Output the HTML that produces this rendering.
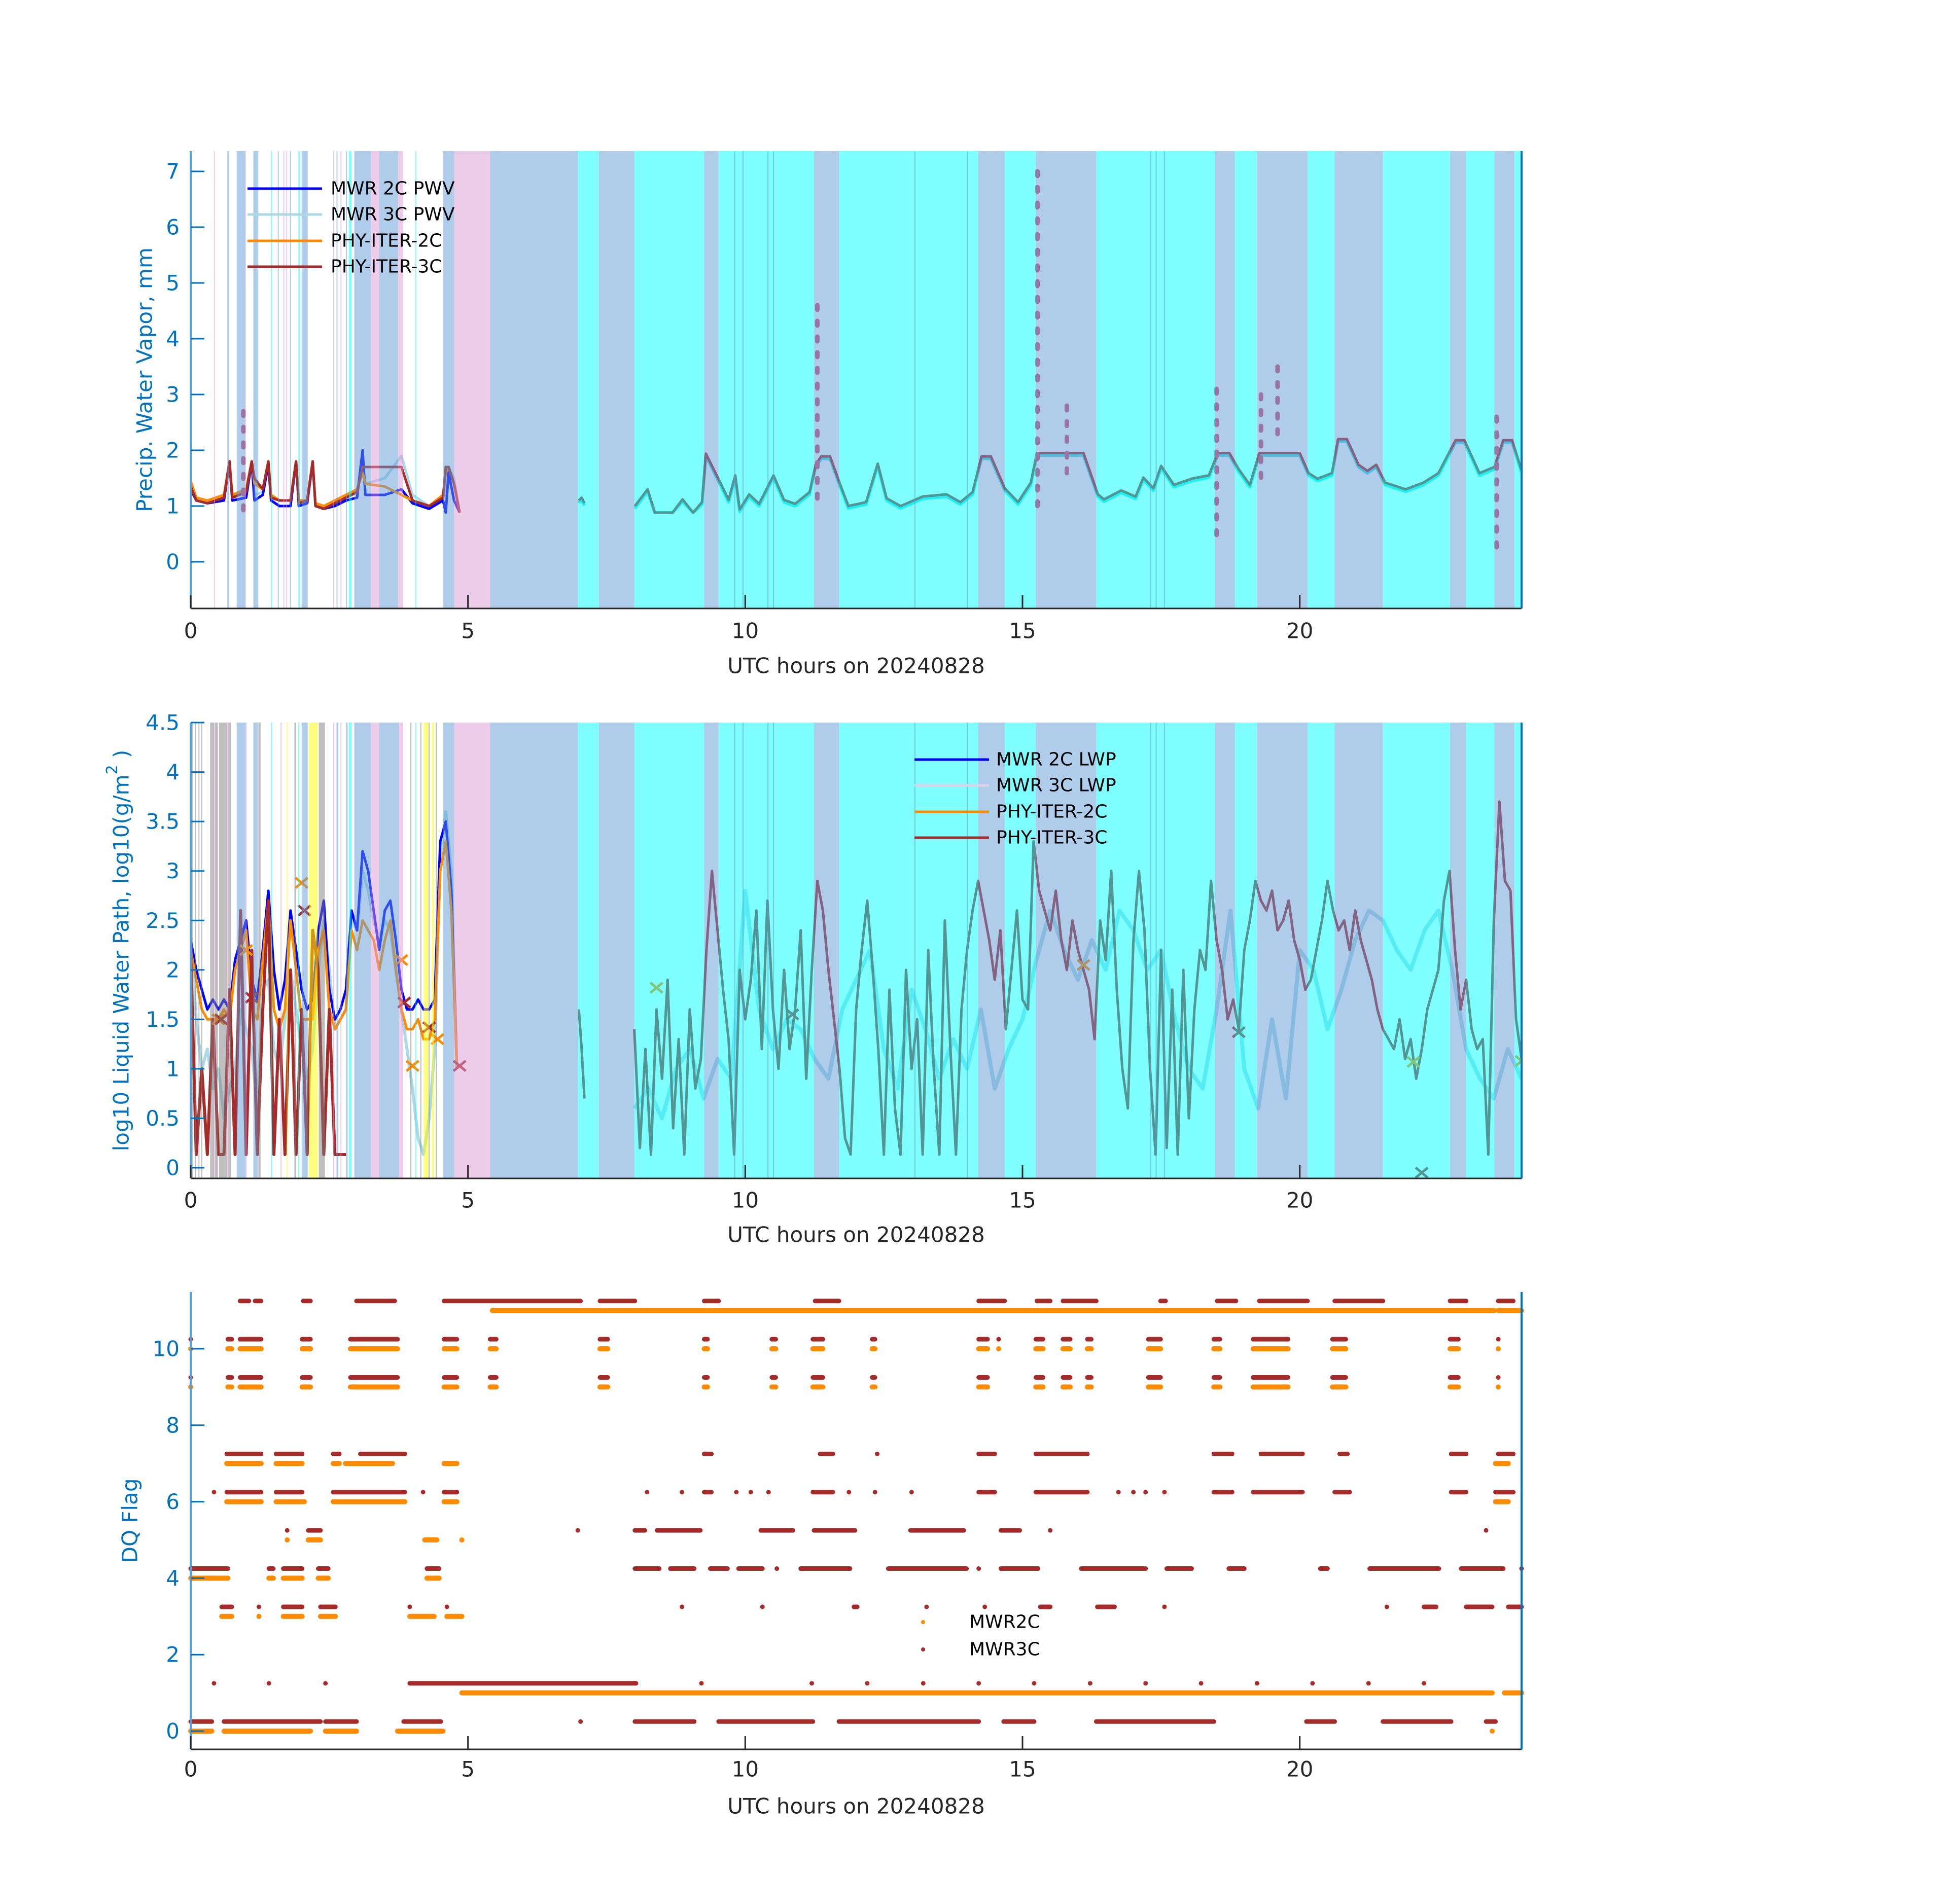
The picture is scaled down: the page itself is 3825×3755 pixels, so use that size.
<!DOCTYPE html>
<html><head><meta charset="utf-8"><style>
html,body{margin:0;padding:0;background:#fff;}
svg text{font-family:"DejaVu Sans","Liberation Sans",sans-serif;}
</style></head><body>
<svg id="fig" xmlns="http://www.w3.org/2000/svg" width="3825" height="3750" viewBox="0 0 3825 3750">
<rect x="0" y="0" width="3825" height="3750" fill="#fff"/>
<g id="p1"></g>
<g id="p2"></g>
<g id="p3"></g>
</svg>
<script>
const xTicks = [0,5,10,15,20];
const band1S = [.42,.66,.83,.98,1.13,1.45,1.57,1.67,1.72,1.79,1.94,2.0,2.57,2.63,2.7,2.8,2.85,2.95,3.25,3.4,3.74,4.05,4.55,4.75,5.4,6.98,7.36,8.0,9.26,9.52,11.24,11.69,14.2,14.68,15.24,16.33,18.47,18.83,19.23,20.14,20.63,21.5,22.71,23.0,23.51,23.87,9.8,9.95,10.4,10.5,13.05,14.0,17.3,17.4,17.55];
const band1E = [.435,.69,.98,.995,1.22,1.465,1.585,1.68,1.73,1.805,1.97,2.11,2.58,2.645,2.71,2.815,2.9,3.25,3.4,3.74,3.83,4.06,4.75,5.4,6.98,7.36,8.0,9.26,9.52,11.24,11.69,14.2,14.68,15.24,16.33,18.47,18.83,19.23,20.14,20.63,21.5,22.71,23.0,23.51,23.87,24,9.82,9.97,10.42,10.52,13.07,14.02,17.32,17.42,17.57];
const band1C = ['p','b','b','p','b','c','b','p','p','b','c','b','p','b','p','b','c','b','p','b','p','c','b','p','b','c','b','c','b','c','b','c','b','c','b','c','b','c','b','c','b','c','b','c','b','c','b','b','b','b','b','b','b','b','b'];
const band2S = [.02,.08,.14,.19,.35,.42,.44,.51,.65,.68,.83,.99,1.13,1.22,1.45,1.62,1.73,1.87,1.94,2.0,2.13,2.31,2.57,2.63,2.7,2.8,2.85,2.95,3.25,3.4,3.75,3.96,4.05,4.14,4.2,4.29,4.35,4.42,4.55];
const band2E = [.03,.09,.15,.2,.42,.44,.49,.65,.68,.73,.99,1.01,1.21,1.26,1.465,1.64,1.75,1.9,1.96,2.11,2.29,2.42,2.59,2.66,2.71,2.83,2.9,3.25,3.4,3.75,3.83,3.98,4.06,4.16,4.29,4.31,4.39,4.44,4.75];
const band2C = ['g','g','g','g','g','p','g','g','p','g','b','p','b','g','c','p','y','g','c','b','y','g','p','b','p','b','c','b','p','b','p','g','c','g','y','g','y','g','b'];

const pwvEarlyT = [0,.1,.3,.6,.7,.75,1.0,1.1,1.15,1.3,1.4,1.45,1.6,1.8,1.9,1.95,2.1,2.2,2.25,2.4,2.6,2.8,3.0,3.1,3.15,3.5,3.8,4.0,4.3,4.55,4.6,4.65,4.75,4.85];
const pwv2C = [1.3,1.1,1.05,1.1,1.8,1.1,1.15,1.8,1.1,1.2,1.75,1.1,1.0,1.0,1.8,1.0,1.05,1.8,1.0,0.95,1.0,1.1,1.15,2.0,1.2,1.2,1.3,1.05,0.95,1.1,0.5,1.6,1.1,0.8];
const pwv3C = [1.35,1.15,1.1,1.2,1.7,1.2,1.3,1.7,1.2,1.25,1.7,1.15,1.1,1.1,1.7,1.1,1.1,1.7,1.05,1.0,1.05,1.15,1.25,1.8,1.4,1.5,1.9,1.2,1.0,1.15,1.2,1.7,1.5,0.8];
const phy2C = [1.45,1.15,1.1,1.2,1.8,1.2,1.3,1.8,1.4,1.3,1.8,1.2,1.1,1.1,1.8,1.1,1.1,1.8,1.05,1.0,1.1,1.2,1.3,1.6,1.4,1.35,1.2,1.1,1.0,1.2,1.6,1.7,1.4,0.75];
const phy3C = [1.35,1.1,1.05,1.15,1.8,1.15,1.25,1.8,1.5,1.3,1.8,1.15,1.1,1.1,1.8,1.05,1.1,1.8,1.0,0.95,1.05,1.15,1.25,1.7,1.7,1.7,1.7,1.1,1.0,1.15,1.7,1.7,1.4,0.8];
const pwvLateT = [7.0,7.05,7.1,null,8.01,8.24,8.37,8.48,8.69,8.87,9.06,9.22,9.29,9.43,9.6,9.7,9.82,9.9,10.07,10.25,10.51,10.7,10.9,11.16,11.27,11.37,11.53,11.7,11.86,12.18,12.39,12.55,12.8,13.2,13.63,13.88,14.1,14.26,14.43,14.68,14.92,15.15,15.26,16.1,16.36,16.47,16.78,17.04,17.18,17.36,17.5,17.73,18.05,18.36,18.52,18.73,18.9,19.1,19.27,20.0,20.16,20.32,20.58,20.69,20.85,21.06,21.22,21.38,21.54,21.91,22.23,22.5,22.81,22.97,23.24,23.51,23.67,23.83,24.0];
const pwvLateV = [1.1,1.15,1.05,null,1.0,1.3,0.79,0.74,0.86,1.12,0.85,1.07,1.94,1.66,1.32,1.11,1.55,0.94,1.21,1.04,1.55,1.11,1.04,1.25,1.74,1.89,1.89,1.42,1.0,1.07,1.76,1.14,1.0,1.17,1.21,1.07,1.25,1.89,1.89,1.32,1.07,1.42,1.95,1.95,1.21,1.12,1.28,1.17,1.51,1.32,1.72,1.38,1.49,1.55,1.95,1.95,1.66,1.38,1.95,1.95,1.59,1.49,1.59,2.2,2.2,1.74,1.63,1.74,1.42,1.30,1.42,1.59,2.18,2.18,1.59,1.70,2.18,2.18,1.64];
const spikeT = [0.95,11.3,15.27,15.8,18.5,19.3,19.6,23.55];
const spikeMax = [2.7,4.6,7.0,2.8,3.1,3.0,3.5,2.6];
const spikeMin = [0.8,1.0,0.95,1.4,0.4,1.4,2.2,0.2];

const lwpEarlyT = [0,.1,.2,.3,.4,.5,.6,.7,.8,.9,1.0,1.1,1.2,1.3,1.4,1.5,1.6,1.7,1.8,1.9,2.0,2.1,2.2,2.3,2.4,2.5,2.6,2.7,2.8,2.9,3.0,3.1,3.2,3.3,3.4,3.5,3.6,3.7,3.8,3.9,4.0,4.1,4.2,4.3,4.4,4.5,4.6,4.7,4.8];
const lwpEarly2C = [2.3,2.0,1.8,1.6,1.7,1.6,1.7,1.6,2.1,2.3,2.5,1.9,1.7,2.2,2.8,2.0,1.6,1.9,2.6,2.2,1.8,1.6,1.7,2.4,2.7,1.8,1.5,1.6,1.8,2.6,2.4,3.2,3.0,2.6,2.2,2.6,2.7,2.3,1.8,1.6,1.6,1.7,1.6,1.6,1.7,3.3,3.5,2.8,1.0];
const lwpEarly3C = [2.3,1.5,1.0,1.2,0.8,1.0,0.5,0.8,1.0,1.6,1.4,1.2,0.6,1.8,1.9,1.2,1.0,1.5,2.0,1.6,1.2,0.9,1.2,2.0,2.5,2.0,1.4,1.5,1.6,2.5,2.4,3.0,2.8,2.5,2.3,2.5,2.4,2.0,1.6,1.2,0.8,0.3,-0.1,0.5,1.2,3.1,3.6,3.0,1.0];
const lwpEarlyPhy2C = [2.2,1.9,1.6,1.5,1.5,1.5,1.6,1.5,2.0,2.2,2.4,1.6,1.5,2.1,2.7,1.6,1.4,1.6,2.5,2.0,1.5,1.5,1.5,2.2,2.4,1.6,1.4,1.5,1.6,2.4,2.2,2.5,2.4,2.3,2.0,2.3,2.5,2.0,1.6,1.4,1.4,1.5,1.3,1.3,1.5,3.0,3.3,2.6,1.0];
const lwpEarlyPhy3C = [2.2,-0.2,1.0,-0.2,1.5,-0.2,-0.2,1.8,-0.2,2.6,-0.2,2.2,-0.2,1.6,2.7,-0.2,1.5,-0.2,2.0,-0.2,1.6,-0.2,2.4,2.0,-0.2,1.6,-0.2,-0.2,-0.2,null,null,null,null,null,null,null,null,null,null,null,null,null,null,null,null,null,null,null,null];
const lwpLateStart = 8.0;
const lwpLateV = [1.4,0.2,1.2,-0.2,1.6,0.9,1.9,0.4,1.3,-0.2,1.6,0.8,1.1,
 2.2,3.0,2.4,1.8,1.3,-0.2,2.0,1.5,
 1.9,2.6,1.2,2.7,1.6,1.0,2.0,1.2,1.6,2.4,0.9,2.0,
 2.9,2.6,2.0,1.5,1.0,0.3,-0.2,1.6,
 2.2,2.7,2.0,1.2,-0.2,1.8,0.6,-0.2,2.0,1.0,
 1.5,-0.2,2.2,1.0,-0.2,2.5,1.2,-0.2,1.6,2.2,
 2.6,2.9,2.6,2.3,1.9,2.4,1.4,2.0,2.6,1.7,
 1.6,3.3,2.8,2.6,2.4,2.8,2.3,2.0,2.5,2.2,
 2.0,1.8,1.3,2.5,2.1,3.0,1.8,1.0,0.6,2.3,
 3.0,2.4,1.0,-0.2,2.2,0.2,1.8,-0.2,2.0,0.5,
 1.6,2.2,2.0,2.9,2.3,2.0,1.5,1.7,1.4,2.2,
 2.5,2.9,2.7,2.6,2.8,2.4,2.5,2.7,2.3,2.1,
 1.8,1.9,2.2,2.5,2.9,2.6,2.4,2.5,2.2,2.6,
 2.3,2.1,1.9,1.6,1.4,1.3,1.2,1.5,1.1,1.3,
 0.9,1.2,1.6,1.8,2.0,2.7,3.0,2.2,1.6,1.9,
 1.4,1.2,1.3,-0.2,2.5,3.7,2.9,2.8,1.5,1.1];
const lwp3CLateV = [0.6,0.8,0.5,1.0, 1.2,0.7,1.1,0.9, 2.8,1.6,1.2,1.5, 1.4,1.1,0.9,1.6,
 1.9,2.2,1.2,0.8, 1.8,1.4,0.9,1.3, 1.0,1.6,0.8,1.2, 1.5,2.1,2.6,2.2,
 1.9,2.3,2.0,2.6, 2.4,2.0,2.2,1.5, 1.0,0.8,1.6,2.6, 1.0,0.6,1.5,0.7,
 2.2,2.0,1.4,1.8, 2.3,2.6,2.5,2.2, 2.0,2.4,2.6,2.0, 1.2,0.9,0.7,1.2, 0.9];
const lwpMarkT = [0.5,0.55,1.0,1.1,2.0,2.05,3.8,3.85,4.0,4.3,4.45,4.85,8.4,10.85,16.1,18.9,22.05,22.2,24.0];
const lwpMarkV = [1.5,1.5,2.2,1.72,2.88,2.6,2.1,1.67,1.03,1.42,1.3,1.03,1.82,1.55,2.05,1.37,1.07,-0.05,1.08];

const flagRows = [11,10,9,7,6,5,4,3,1,0];
const mwr2cSeg = [
 [5.44,23.51,23.58,24],
 [0,0,0.67,0.74,0.89,1.27,2.01,2.16,2.88,3.73,4.57,4.8,5.4,5.51,7.38,7.52,9.26,9.32,10.48,10.55,11.22,11.4,12.29,12.34,14.21,14.37,14.57,14.57,15.24,15.37,15.73,15.86,16.17,16.24,17.27,17.49,18.45,18.56,19.16,19.79,20.59,20.83,22.71,22.86,23.58,23.58],
 [0,0,0.67,0.74,0.89,1.27,2.01,2.16,2.88,3.73,4.57,4.8,5.4,5.51,7.38,7.52,9.26,9.32,10.48,10.55,11.22,11.4,12.29,12.34,14.21,14.37,15.24,15.37,15.73,15.86,16.17,16.24,17.27,17.49,18.45,18.56,19.16,19.79,20.59,20.83,22.71,22.86,23.58,23.58],
 [0.65,1.27,1.54,2.01,2.57,2.68,2.79,3.64,4.57,4.8,23.53,23.76],
 [0.65,1.27,1.54,2.05,2.57,3.86,4.57,4.8,23.53,23.76],
 [1.74,1.74,2.12,2.34,4.22,4.44,4.89,4.89],
 [0,0.67,1.41,1.49,1.67,2.01,2.3,2.48,4.26,4.48],
 [0.56,0.74,1.23,1.23,1.67,2.01,2.34,2.61,3.95,4.39,4.62,4.89],
 [4.89,23.47,23.69,24],
 [0,0.38,0.6,2.16,2.43,2.99,3.73,4.55,23.47,23.47]
];
const mwr3cSeg = [
 [0.89,1.05,1.16,1.27,2.03,2.16,2.99,3.68,4.57,7.03,7.38,8.01,9.26,9.52,11.26,11.69,14.21,14.68,15.26,15.5,15.73,16.33,17.49,17.58,18.51,18.85,19.27,20.14,20.63,21.5,22.71,23.0,23.58,23.85],
 [0,0,0.67,0.74,0.89,1.27,2.01,2.16,2.88,3.73,4.57,4.8,5.4,5.51,7.38,7.52,9.26,9.32,10.48,10.55,11.22,11.4,12.29,12.34,14.21,14.37,14.57,14.57,15.24,15.37,15.73,15.86,16.17,16.24,17.27,17.49,18.45,18.56,19.16,19.79,20.59,20.83,22.71,22.86,23.58,23.58],
 [0,0,0.67,0.74,0.89,1.27,2.01,2.16,2.88,3.73,4.57,4.8,5.4,5.51,7.38,7.52,9.26,9.32,10.48,10.55,11.22,11.4,12.29,12.34,14.21,14.37,15.24,15.37,15.73,15.86,16.17,16.24,17.27,17.49,18.45,18.56,19.16,19.79,20.59,20.83,22.71,22.86,23.58,23.58],
 [0.65,1.27,1.54,2.01,2.57,2.68,3.06,3.86,9.26,9.39,11.35,11.58,12.38,12.38,14.21,14.5,15.24,16.17,18.45,18.78,19.3,20.05,20.72,20.86,22.73,23.0,23.58,23.85],
 [0.42,0.42,0.65,1.27,1.54,2.01,2.57,3.86,4.19,4.19,4.57,4.8,8.23,8.23,8.86,8.86,9.26,9.39,9.84,9.84,10.1,10.1,10.42,10.42,11.22,11.58,11.87,11.87,12.34,12.34,13.0,13.0,14.21,14.5,15.24,16.17,16.73,16.73,17.0,17.0,17.22,17.22,17.56,17.56,18.45,18.78,19.16,20.05,20.63,20.9,22.73,23.0,23.53,23.85],
 [1.74,1.74,2.12,2.34,6.98,6.98,8.01,8.19,8.41,9.19,10.28,10.86,11.24,11.98,12.98,13.94,14.61,14.95,15.5,15.5,23.36,23.36],
 [0,0.67,1.41,1.49,1.67,2.01,2.3,2.48,4.26,4.48,8.01,8.45,8.65,9.08,9.37,9.68,9.88,10.31,10.57,10.57,11.0,11.89,12.58,13.99,14.21,14.21,14.61,15.28,16.06,17.22,17.6,18.05,18.72,19.0,20.37,20.5,21.26,22.51,22.91,23.67,24,24],
 [0.56,0.74,1.23,1.23,1.67,2.01,2.34,2.61,3.95,3.95,4.62,4.62,8.86,8.86,10.31,10.31,11.96,12.02,13.27,13.27,14.32,14.32,15.32,15.5,16.35,16.66,17.56,17.56,21.57,21.57,22.24,22.46,23.0,23.47,23.76,24],
 [0.42,0.42,1.41,1.41,2.43,2.43,3.95,8.03,9.21,9.21,11.2,11.2,12.2,12.2,13.21,13.21,14.21,14.21,15.21,15.21,16.22,16.22,17.22,17.22,18.22,18.22,19.23,19.23,20.23,20.23,21.24,21.24,22.24,22.24],
 [0,0.38,0.6,2.34,2.43,2.99,3.84,4.51,7.03,7.03,8.01,9.08,9.52,11.22,11.69,14.21,14.66,15.21,16.33,18.45,20.12,20.63,21.5,22.73,23.36,23.53]
];

const NS = 'http://www.w3.org/2000/svg';
const X0 = 376, X1 = 3000;
function X(h){ return X0 + h*(X1-X0)/24; }
const P1 = {top:298,bottom:1200,y0:1108,k:110};
const P2 = {top:1425,bottom:2324,y0:2303,k:195.1};
const P3 = {top:2548,bottom:3450,y0:3414,k:75.4};
function Y(p,v){ return p.y0 - v*p.k; }
const bandFill = {b:'rgb(95,155,215)',c:'#00ffff',p:'rgb(221,155,215)',g:'#7f7f7f',y:'#ffff00'};
const colBlue='#0000ff', colLB='#add8e6', colOr='#ff8c00', colBr='#a52a2a';

function mk(tag, attrs, parent){
  const e = document.createElementNS(NS, tag);
  for (const k in attrs) e.setAttribute(k, attrs[k]);
  parent.appendChild(e); return e;
}
function clip(id,p){
  let defs = document.getElementById('defs');
  if(!defs){ defs = mk('defs',{id:'defs'},document.getElementById('fig')); }
  const c = mk('clipPath',{id:id},defs);
  mk('rect',{x:X0,y:p.top,width:X1-X0,height:p.bottom-p.top},c);
}
function pathFrom(ts, vs, p){
  let d='', pen=false;
  for(let i=0;i<ts.length;i++){
    if(ts[i]===null || vs[i]===null){ pen=false; continue; }
    let v = Math.max(vs[i], (p.y0-p.bottom-5)/-p.k);
    d += (pen?'L':'M') + X(ts[i]).toFixed(1) + ' ' + Y(p,v).toFixed(1) + ' ';
    pen=true;
  }
  return d;
}
function series(g, ts, vs, p, color, w, name){
  const e = mk('path',{d:pathFrom(ts,vs,p),fill:'none',stroke:color,'stroke-width':w,'stroke-linejoin':'round'},g);
  
  
  return e;
}
function bands(g, S, E, C, p, name, fromH){
  for(let i=0;i<S.length;i++){
    if(fromH!==undefined && S[i] < fromH) continue;
    const r = mk('rect',{x:X(S[i]).toFixed(1),y:p.top,width:Math.max(2,X(E[i])-X(S[i])).toFixed(1),height:p.bottom-p.top,fill:bandFill[C[i]],'fill-opacity':0.5},g);
    
    
  }
}
function axes(g, p, yt, ylab, labelX, xlabY, tickLabY){
  const ax = mk('g',{},g);
  
  
  mk('line',{x1:X0,y1:p.bottom,x2:X1,y2:p.bottom,stroke:'#262626','stroke-width':3},ax);
  mk('line',{x1:X0,y1:p.top,x2:X0,y2:p.bottom,stroke:'#5a9fd4','stroke-width':4},ax);
  mk('line',{x1:X1,y1:p.top,x2:X1,y2:p.bottom,stroke:'#0072bd','stroke-width':4},ax);
  xTicks.forEach(h=>{
    mk('line',{x1:X(h),y1:p.bottom,x2:X(h),y2:p.bottom-26,stroke:'#262626','stroke-width':3},ax);
    const t = mk('text',{x:X(h),y:tickLabY,'font-size':42,fill:'#262626','text-anchor':'middle','dominant-baseline':'central'},ax);
    t.textContent = String(h);
    
    
  });
  yt.forEach(v=>{
    const y = Y(p,v);
    mk('line',{x1:X0,y1:y,x2:X0+27,y2:y,stroke:'#0072bd','stroke-width':3},ax);
    const t = mk('text',{x:X0-22,y:y,'font-size':42,fill:'#0072bd','text-anchor':'end','dominant-baseline':'central'},ax);
    t.textContent = String(v);
    
    
  });
  const xl = mk('text',{x:1688,y:xlabY,'font-size':42,fill:'#262626','text-anchor':'middle','dominant-baseline':'central'},ax);
  xl.textContent = 'UTC hours on 20240828';
  
  
  const cy = (p.top+p.bottom)/2;
  const yl = mk('text',{x:labelX,y:cy,'font-size':42,fill:'#0072bd','text-anchor':'middle','dominant-baseline':'central',transform:`rotate(-90 ${labelX} ${cy})`},ax);
  
  
  return yl;
}
function legendLines(g, x1, x2, tx, ys, labels, colors, name){
  const lg = mk('g',{},g);
  
  
  ys.forEach((y,i)=>{
    mk('line',{x1:x1,y1:y,x2:x2,y2:y,stroke:colors[i],'stroke-width':5},lg);
    const t = mk('text',{x:tx,y:y,'font-size':36,fill:'#000','dominant-baseline':'central'},lg);
    t.textContent = labels[i];
    
    
  });
}

(function(){
  const g = document.getElementById('p1');
  clip('c1',P1);
  const inner = mk('g',{'clip-path':'url(#c1)'},g);
  series(inner, pwvEarlyT, pwv3C, P1, colLB, 5, 'mwr-3c-pwv-line');
  series(inner, pwvEarlyT, pwv2C, P1, colBlue, 5, 'mwr-2c-pwv-line');
  series(inner, pwvEarlyT, phy2C, P1, colOr, 5, 'phy-iter-2c-line');
  series(inner, pwvEarlyT, phy3C, P1, colBr, 5, 'phy-iter-3c-line');
  series(inner, pwvLateT, pwvLateV.map(v=>v===null?null:v-0.04), P1, '#3fe0e8', 6, 'mwr-3c-pwv-line-late');
  series(inner, pwvLateT, pwvLateV, P1, colBr, 5, 'phy-iter-3c-line-late');
  for(let i=0;i<spikeT.length;i++){
    const l = mk('line',{x1:X(spikeT[i]),x2:X(spikeT[i]),y1:Y(P1,spikeMax[i]),y2:Y(P1,spikeMin[i]),stroke:'#d05070','stroke-width':9,'stroke-dasharray':'9 22','stroke-linecap':'round'},inner);
    
    
  }
  bands(inner, band1S, band1E, band1C, P1, 'qc-band');
  const yl = axes(g, P1, [0,1,2,3,4,5,6,7], '', 285, 1313, 1244);
  yl.textContent = 'Precip. Water Vapor, mm';
  legendLines(g, 488, 635, 652, [372,423,475,526], ['MWR 2C PWV','MWR 3C PWV','PHY-ITER-2C','PHY-ITER-3C'], [colBlue,colLB,colOr,colBr], 'pwv-legend');
})();

(function(){
  const g = document.getElementById('p2');
  clip('c2',P2);
  const inner = mk('g',{'clip-path':'url(#c2)'},g);
  const lateT = lwpLateV.map((v,i)=>lwpLateStart + i*0.1);
  const late3T = lwp3CLateV.map((v,i)=>lwpLateStart + i*0.25);
  series(inner, lwpEarlyT, lwpEarly3C, P2, colLB, 6, 'mwr-3c-lwp-line');
  series(inner, lwpEarlyT, lwpEarly2C, P2, colBlue, 5, 'mwr-2c-lwp-line');
  series(inner, lwpEarlyT, lwpEarlyPhy2C, P2, colOr, 5, 'phy-iter-2c-lwp-line');
  series(inner, lwpEarlyT, lwpEarlyPhy3C, P2, colBr, 6, 'phy-iter-3c-lwp-line');
  series(inner, [7.0,7.05,7.1], [1.6,1.2,0.7], P2, colBr, 5, 'phy-iter-3c-lwp-segment');
  series(inner, late3T, lwp3CLateV, P2, colLB, 8, 'mwr-3c-lwp-line-late');
  series(inner, lateT, lwpLateV, P2, colBr, 5, 'phy-iter-3c-lwp-line-late');
  for(let i=0;i<lwpMarkT.length;i++){
    const x = X(lwpMarkT[i]), y = Y(P2,lwpMarkV[i]);
    const m = mk('path',{d:`M${x-12} ${y-10}L${x+12} ${y+10}M${x-12} ${y+10}L${x+12} ${y-10}`,stroke:i%2?colBr:colOr,'stroke-width':5},inner);
    
    
  }
  bands(inner, band2S, band2E, band2C, P2, 'qc-band');
  bands(inner, band1S, band1E, band1C, P2, 'qc-band', 4.74);
  const yl = axes(g, P2, [0,0.5,1,1.5,2,2.5,3,3.5,4,4.5], '', 239, 2435, 2367);
  yl.textContent = 'log10 Liquid Water Path, log10(g/m';
  const sup = mk('tspan',{'baseline-shift':'super','font-size':30},yl); sup.textContent='2';
  const tail = mk('tspan',{},yl); tail.textContent=' )';
  legendLines(g, 1803, 1950, 1964, [1498,1549,1601,1652], ['MWR 2C LWP','MWR 3C LWP','PHY-ITER-2C','PHY-ITER-3C'], [colBlue,'#e2cfe6',colOr,colBr], 'lwp-legend');
})();

(function(){
  const g = document.getElementById('p3');
  function drawSegs(segs, offset, color, w, name){
    flagRows.forEach((row,ri)=>{
      const s = segs[ri];
      for(let i=0;i<s.length;i+=2){
        const y = Y(P3,row+offset);
        const l = mk('line',{x1:X(s[i]),x2:X(s[i+1]),y1:y,y2:y,stroke:color,'stroke-width':w,'stroke-linecap':'round'},g);
        
        
      }
    });
  }
  drawSegs(mwr2cSeg, 0, colOr, 10, 'mwr2c-flag-mark');
  drawSegs(mwr3cSeg, 0.25, colBr, 9, 'mwr3c-flag-mark');
  const yl = axes(g, P3, [0,2,4,6,8,10], '', 256, 3562, 3489);
  yl.textContent = 'DQ Flag';
  const lg = mk('g',{},g);
  
  
  mk('circle',{cx:1820,cy:3199,r:4,fill:colOr},lg);
  mk('circle',{cx:1820,cy:3253,r:4,fill:colBr},lg);
  const t1 = mk('text',{x:1911,y:3199,'font-size':36,fill:'#000','dominant-baseline':'central'},lg); t1.textContent='MWR2C';
  
  
  const t2 = mk('text',{x:1911,y:3253,'font-size':36,fill:'#000','dominant-baseline':'central'},lg); t2.textContent='MWR3C';
  
  
})();
</script>
</body></html>
